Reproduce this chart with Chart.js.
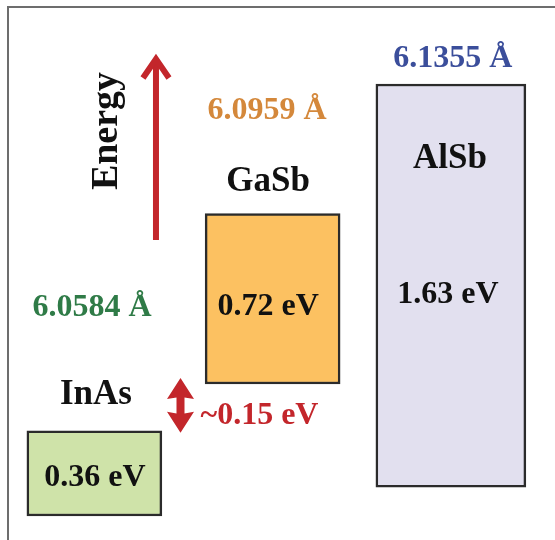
<!DOCTYPE html>
<html><head><meta charset="utf-8">
<script src="https://cdn.jsdelivr.net/npm/chart.js@4.4.1/dist/chart.umd.min.js"></script>
<style>html,body{margin:0;padding:0;background:#fff}#wrap{width:555px;height:540px;position:relative}</style>
</head><body><div id="wrap"><canvas id="c"></canvas></div>
<script>
// ---- data (energies in eV, relative to the InAs valence-band edge) ----
const materials      = ['InAs', 'GaSb', 'AlSb'];
const valenceBand    = [0.00, 0.55, 0.12];
const conductionBand = [0.355, 1.26, 1.80];
const gapLabels      = ['0.36 eV', '0.72 eV', '1.63 eV'];
const latticeLabels  = ['6.0584 Å', '6.0959 Å', '6.1355 Å'];
const offsetLabel    = '~0.15 eV';
const axisLabel      = 'Energy';

// ---- styles ----
const fills      = ['#cfe3a9', '#fcc161', '#e2e0ef'];
const latColors  = ['#2f7b47', '#d4883b', '#3b4e9b'];
const barWidths  = [135, 135, 150];
const RED = '#c3262b';
const FONT = '"Liberation Serif", "Times New Roman", serif';
// label offsets relative to each bar (px)
const nameOff = [[1.6, 'top', -36], [-4.6, 'top', -32], [-1, 'top', 75]];
const latOff  = [[-2.4, 'top', -123], [-5.6, 'top', -103], [2, 'top', -25]];
const gapOff  = [[0.5, 'mid', 4.5], [-4.5, 'mid', 8], [-3, 'mid', 9.5]];

function place(el, off) {
  const top = Math.min(el.y, el.base), bot = Math.max(el.y, el.base);
  const ref = off[1] === 'top' ? top : (off[1] === 'mid' ? (top + bot) / 2 : bot);
  return [el.x + off[0], ref + off[2]];
}

const annot = {
  id: 'annot',
  beforeDraw(chart) {
    const ctx = chart.ctx;
    ctx.save();
    ctx.strokeStyle = '#6d6d6d';
    ctx.lineWidth = 2;
    ctx.beginPath();
    ctx.moveTo(8, 560); ctx.lineTo(8, 7); ctx.lineTo(560, 7);
    ctx.stroke();
    ctx.restore();
  },
  afterDatasetsDraw(chart) {
    const ctx = chart.ctx;
    const ys = chart.scales.y;
    const els = materials.map((m, i) => chart.getDatasetMeta(i).data[i]);
    ctx.save();
    ctx.textAlign = 'center';
    ctx.textBaseline = 'middle';
    els.forEach((el, i) => {
      let p = place(el, nameOff[i]);
      ctx.fillStyle = '#111';
      ctx.font = 'bold 35px ' + FONT;
      ctx.fillText(materials[i], p[0], p[1]);
      p = place(el, latOff[i]);
      ctx.fillStyle = latColors[i];
      ctx.font = 'bold 32px ' + FONT;
      ctx.fillText(latticeLabels[i], p[0], p[1]);
      p = place(el, gapOff[i]);
      ctx.fillStyle = '#111';
      ctx.font = 'bold 32px ' + FONT;
      ctx.fillText(gapLabels[i], p[0], p[1]);
    });

    // Energy axis arrow
    const ax = els[0].x + 61.6;
    const tip = 55, tail = 240;
    ctx.strokeStyle = RED; ctx.fillStyle = RED;
    ctx.lineWidth = 6; ctx.lineCap = 'butt';
    ctx.beginPath(); ctx.moveTo(ax, tail); ctx.lineTo(ax, tip + 6); ctx.stroke();
    ctx.lineJoin = 'miter';
    ctx.beginPath();
    ctx.moveTo(ax - 13, tip + 23); ctx.lineTo(ax, tip + 4); ctx.lineTo(ax + 13, tip + 23);
    ctx.stroke();

    // Energy label (rotated)
    ctx.save();
    ctx.translate(ax - 39, 131);
    ctx.rotate(-Math.PI / 2);
    ctx.fillStyle = '#111';
    ctx.font = 'bold 38px ' + FONT;
    ctx.textBaseline = 'alphabetic';
    ctx.fillText(axisLabel, 0, 0);
    ctx.restore();

    // band offset double arrow
    const inR = els[0].x + els[0].width / 2, gaL = els[1].x - els[1].width / 2;
    const dx = (inR + gaL) / 2 - 3;
    const t = ys.getPixelForValue(valenceBand[1]) - 6;
    const b = ys.getPixelForValue(conductionBand[0]) + 2;
    const m = (t + b) / 2;
    ctx.fillStyle = RED;
    ctx.beginPath();
    ctx.moveTo(dx, t);
    ctx.lineTo(dx + 13.5, t + 21); ctx.lineTo(dx + 4, m - 8);
    ctx.lineTo(dx + 4, m + 8); ctx.lineTo(dx + 13.5, b - 21);
    ctx.lineTo(dx, b);
    ctx.lineTo(dx - 13.5, b - 21); ctx.lineTo(dx - 4, m + 8);
    ctx.lineTo(dx - 4, m - 8); ctx.lineTo(dx - 13.5, t + 21);
    ctx.closePath();
    ctx.fill();
    ctx.textAlign = 'left';
    ctx.font = 'bold 32px ' + FONT;
    ctx.fillText(offsetLabel, dx + 20, m + 10);
    ctx.restore();
  }
};

new Chart(document.getElementById('c'), {
  type: 'bar',
  data: {
    labels: materials,
    datasets: materials.map((m, i) => ({
      label: m,
      data: materials.map((_, j) => j === i ? [valenceBand[i], conductionBand[i]] : null),
      backgroundColor: fills[i],
      borderColor: '#2b2b2b',
      borderWidth: 2.5,
      borderSkipped: false,
      barThickness: barWidths[i],
      grouped: false
    }))
  },
  options: {
    responsive: true,
    maintainAspectRatio: false,
    animation: false,
    layout: { padding: { left: 5.25, right: 15, top: 0, bottom: 0 } },
    plugins: { legend: { display: false }, tooltip: { enabled: false } },
    scales: {
      x: { display: false, offset: true },
      y: { display: false, min: -0.1, max: 2.15 }
    }
  },
  plugins: [annot]
});
</script>
</body></html>
